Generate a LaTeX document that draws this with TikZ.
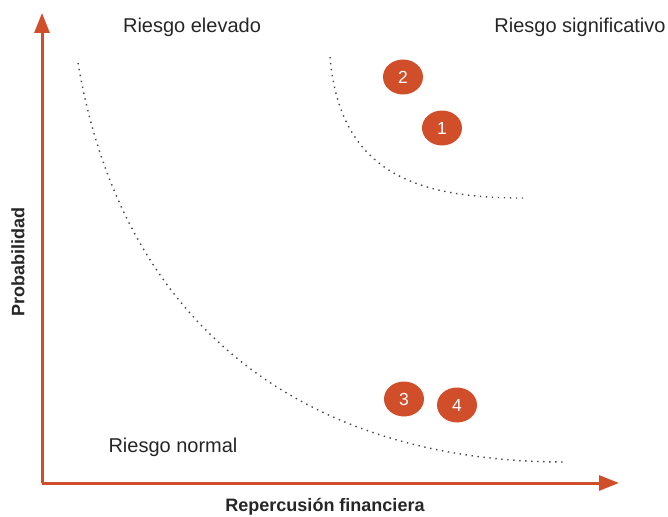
\documentclass[tikz,border=0pt]{standalone}
\usepackage{fontspec}
\setmainfont{Liberation Sans}
\usetikzlibrary{arrows.meta,shapes.geometric}
\definecolor{riskred}{RGB}{208,78,42}
\definecolor{dotgray}{RGB}{70,70,70}
\begin{document}
\begin{tikzpicture}[x=1pt,y=-1pt,
  axis/.style={riskred,line width=3pt,-{Triangle[width=15pt,length=20pt]}},
  curve/.style={dotgray,line width=1.4pt,dash pattern=on 1.4pt off 4.6pt},
  badge/.style={ellipse,fill=riskred,minimum width=40pt,minimum height=35pt,inner sep=0pt,text=white,font=\fontsize{17.5}{19}\selectfont},
  zone/.style={font=\fontsize{20}{23}\selectfont,text=black!85},
  axlabel/.style={font=\bfseries\fontsize{18}{20}\selectfont,text=black!85}]
\useasboundingbox (0,0) rectangle (668,516);
\coordinate (O) at (42,483);
\coordinate (Ytip) at (42,13);
\coordinate (Xtip) at (619,483);
\draw[axis] (O) -- (Ytip);
\draw[axis] (O) -- (Xtip);
\coordinate (b1) at (78,63);
\coordinate (b2) at (565,462);
\coordinate (s1) at (330,57);
\coordinate (s2) at (523,198);
\draw[curve] (b1) .. controls (125,340) and (320,462) .. (b2);
\draw[curve] (s1) .. controls (340,175) and (420,198) .. (s2);
\node[badge] (n2) at (403,77) {2};
\node[badge] (n1) at (442,128) {1};
\node[badge] (n3) at (404,399) {3};
\node[badge] (n4) at (457,405) {4};
\node[zone] (re) at (192,27) {Riesgo elevado};
\node[zone] (rs) at (580,27) {Riesgo significativo};
\node[zone] (rn) at (173,447) {Riesgo normal};
\node[axlabel] (xl) at (325,507) {Repercusión financiera};
\node[axlabel,rotate=90] (yl) at (18,262) {Probabilidad};
\end{tikzpicture}
\end{document}
